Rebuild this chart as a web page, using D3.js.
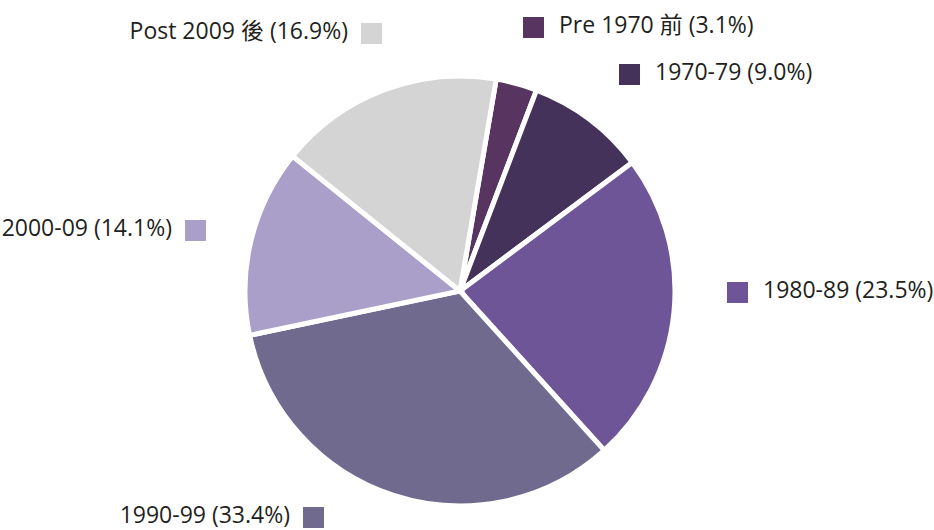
<!DOCTYPE html>
<html>
<head>
<meta charset="utf-8">
<script src="https://cdn.jsdelivr.net/npm/d3@7"></script>
<style>
    html, body { margin: 0; padding: 0; background: #fff; }
    svg text { font-family: "Open Sans", "Noto Sans CJK TC", sans-serif; fill: #231f20; }
</style>
</head>
<body>
<svg id="chart" width="934" height="530"></svg>
<script>
// decades of construction, share of buildings (%)
var categories = ["Pre 1970 前", "1970-79", "1980-89", "1990-99", "2000-09", "Post 2009 後"];
var shares = [3.1, 9.0, 23.5, 33.4, 14.1, 16.9];
var colours = ["#573560", "#45325a", "#6e5597", "#706a8e", "#a99fc8", "#d4d4d4"];

// legend placement: square top-left, label side
var legend_pos = [
    { x: 523, y: 17, side: "right" },
    { x: 619, y: 64, side: "right" },
    { x: 727, y: 282, side: "right" },
    { x: 303, y: 507, side: "left" },
    { x: 185, y: 220, side: "left" },
    { x: 361, y: 23, side: "left" }
];

var svg = d3.select("#chart");
var cx = 460, cy = 291, radius = 215, box = 21;

var data = categories.map(function (c, i) {
    return { name: c, value: shares[i], colour: colours[i] };
});

var start = 9.7 * Math.PI / 180;
var pie = d3.pie()
    .sort(null)
    .value(function (d) { return d.value; })
    .startAngle(start)
    .endAngle(start + 2 * Math.PI);

var arc = d3.arc().innerRadius(0).outerRadius(radius);

svg.append("g")
    .attr("transform", "translate(" + cx + "," + cy + ")")
    .selectAll("path")
    .data(pie(data))
    .enter()
    .append("path")
    .attr("d", arc)
    .attr("fill", function (d) { return d.data.colour; })
    .attr("stroke", "#fff")
    .attr("stroke-width", 5)
    .attr("stroke-linejoin", "miter");

var legend = svg.append("g")
    .selectAll("g")
    .data(data)
    .enter()
    .append("g");

legend.append("rect")
    .attr("x", function (d, i) { return legend_pos[i].x; })
    .attr("y", function (d, i) { return legend_pos[i].y; })
    .attr("width", box)
    .attr("height", box)
    .attr("fill", function (d) { return d.colour; });

legend.append("text")
    .attr("x", function (d, i) {
        var p = legend_pos[i];
        return p.side == "right" ? p.x + box + 15 : p.x - 13;
    })
    .attr("y", function (d, i) { return legend_pos[i].y + 16; })
    .attr("text-anchor", function (d, i) {
        return legend_pos[i].side == "right" ? "start" : "end";
    })
    .style("font-size", "23px")
    .text(function (d) { return d.name + " (" + d.value.toFixed(1) + "%)"; });
</script>
</body>
</html>
